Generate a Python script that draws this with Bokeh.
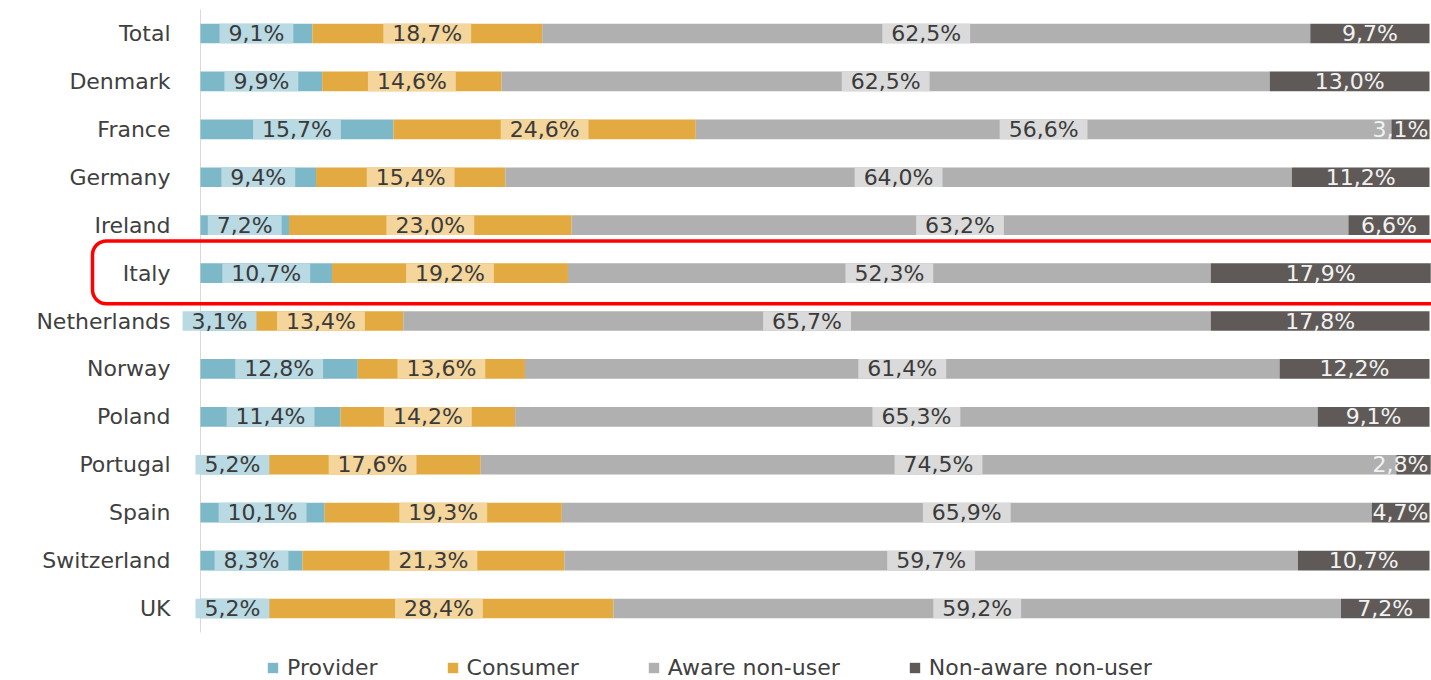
from bokeh.plotting import figure
from bokeh.models import ColumnDataSource, Range1d, BoxAnnotation, Legend, LegendItem
from bokeh.embed import file_html
from bokeh.resources import INLINE
from bokeh.core.properties import value

categories = ["Total", "Denmark", "France", "Germany", "Ireland", "Italy", "Netherlands",
              "Norway", "Poland", "Portugal", "Spain", "Switzerland", "UK"]
provider = [9.1, 9.9, 15.7, 9.4, 7.2, 10.7, 3.1, 12.8, 11.4, 5.2, 10.1, 8.3, 5.2]
consumer = [18.7, 14.6, 24.6, 15.4, 23.0, 19.2, 13.4, 13.6, 14.2, 17.6, 19.3, 21.3, 28.4]
aware_non_user = [62.5, 62.5, 56.6, 64.0, 63.2, 52.3, 65.7, 61.4, 65.3, 74.5, 65.9, 59.7, 59.2]
non_aware_non_user = [9.7, 13.0, 3.1, 11.2, 6.6, 17.9, 17.8, 12.2, 9.1, 2.8, 4.7, 10.7, 7.2]
series_names = ["Provider", "Consumer", "Aware non-user", "Non-aware non-user"]
highlight = "Italy"

FONT = "DejaVu Sans"
colors = ["#7cb8c8", "#e2aa40", "#b0b0b0", "#5f5a58"]
label_bg = ["#b9d9e3", "#f4d59c", "#dadada", None]
label_color = ["#3a3a3a", "#3a3a3a", "#3a3a3a", "#f2f2f2"]
CW = {",": 0.318, "%": 0.950}

# layout (pixels)
W, H = 1431, 680
PX0, PX100 = 200, 1429        # where 0% and 100% fall
PY_TOP, PY_BOTTOM = 33, 608   # centres of the first and last rows


def fmt(v):
    return f"{v:.1f}".replace(".", ",") + "%"


def text_w(t, size=22):
    return sum(CW.get(c, 0.636) for c in t) * size


n = len(categories)
ypos = [n - 1 - i for i in range(n)]
sx = (PX100 - PX0) / 100.0
pitch = (PY_BOTTOM - PY_TOP) / (n - 1)

p = figure(width=W, height=H,
           x_range=Range1d(-PX0 / sx, 100 + (W - PX100) / sx),
           y_range=Range1d(-(H - PY_BOTTOM) / pitch, (n - 1) + PY_TOP / pitch),
           output_backend="svg", toolbar_location=None,
           min_border_left=0, min_border_right=0, min_border_top=0, min_border_bottom=0)
p.outline_line_color = None
p.xgrid.visible = False
p.ygrid.visible = False
p.xaxis.visible = False
p.yaxis.visible = False

# category axis: line + labels
p.segment(x0=0, x1=0, y0=-0.5, y1=n - 0.5, line_color="#d9d9d9", line_width=1)
p.text(x=[0] * n, y=ypos, text=categories, x_offset=-30, text_align="right", text_baseline="middle",
       text_font=value(FONT), text_font_size="22px", text_color="#404040")

series = [provider, consumer, aware_non_user, non_aware_non_user]
BAR_H = 0.41
left = [0.0] * n
sources = []
bar_renderers = []
for i, vals in enumerate(series):
    right = [l + v for l, v in zip(left, vals)]
    txt = [fmt(v) for v in vals]
    mid = [(l + r) / 2 for l, r in zip(left, right)]
    # keep labels that would run past the right edge inside the picture
    xoff = [min(0.0, (W - 3) - (PX0 + m * sx + text_w(t) / 2)) for m, t in zip(mid, txt)]
    src = ColumnDataSource(dict(
        y=ypos, left=left, right=right, mid=mid, xoff=xoff,
        txt=txt, w=[text_w(t) + 18 for t in txt]))
    r = p.hbar(y="y", left="left", right="right", height=BAR_H, source=src,
               fill_color=colors[i], line_color=None)
    bar_renderers.append(r)
    sources.append(src)
    left = right

for i, src in enumerate(sources):
    if label_bg[i]:
        p.rect(x="mid", y="y", width="w", width_units="screen", height=BAR_H, source=src,
               fill_color=label_bg[i], line_color=None)
    p.text(x="mid", y="y", text="txt", x_offset="xoff", source=src, text_align="center",
           text_baseline="middle", text_font=value(FONT), text_font_size="22px",
           text_color=label_color[i])

hy = ypos[categories.index(highlight)]
box = BoxAnnotation(left=92, left_units="canvas", right=W + 20, right_units="canvas",
                    top=hy + 0.67, bottom=hy - 0.64,
                    fill_alpha=0, fill_color=None, line_color="#ff0000", line_alpha=1.0,
                    line_width=3.5, border_radius=14, level="overlay")
p.add_layout(box)

legend = Legend(items=[LegendItem(label=s, renderers=[r]) for s, r in zip(series_names, bar_renderers)],
                orientation="horizontal", location=(266, 0),
                label_text_font=FONT, label_text_font_size="22px", label_text_color="#404040",
                glyph_width=13, glyph_height=13, label_height=26, label_standoff=8, spacing=68,
                padding=0, margin=0, border_line_color=None, background_fill_alpha=0)
p.add_layout(legend)

open("out.html", "w").write(file_html(p, INLINE))
